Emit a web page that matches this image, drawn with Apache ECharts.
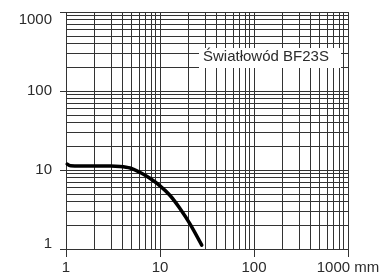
<!DOCTYPE html>
<html><head><meta charset="utf-8">
<script src="https://cdn.jsdelivr.net/npm/echarts@6/dist/echarts.min.js"></script>
<style>html,body{margin:0;padding:0;background:#fff}#c{width:390px;height:275px}</style>
</head><body><div id="c"></div>
<script>
var xValues = [1.03, 1.12, 2, 3, 3.75, 4.8, 6.1, 7.8, 10, 12.8, 16.3, 20.9, 27.8];
var yValues = [11.9, 11.3, 11.2, 11.2, 11.1, 10.6, 9.35, 7.85, 6.3, 4.76, 3.26, 2.07, 1.12];
var xTickLabels = {1: '1', 10: '10', 100: '100', 1000: '1000 mm'};
var yTickLabels = {1: '1', 10: '10', 100: '100', 1000: '1000'};
var seriesName = 'Światłowód BF23S';

var chart = echarts.init(document.getElementById('c'), null, {renderer: 'canvas'});
var font = {fontFamily: 'Liberation Sans, Arial, sans-serif', fontSize: 15, color: '#2b2b2b'};
var gridColor = '#333';
chart.setOption({
  animation: false,
  grid: {left: 66, right: 42, top: 12, bottom: 25, containLabel: false},
  xAxis: {
    type: 'log', logBase: 10, min: 1, max: 1000,
    axisLine: {show: false},
    axisTick: {show: true, length: 8, lineStyle: {color: gridColor}},
    minorTick: {show: false, splitNumber: 9},
    splitLine: {show: true, lineStyle: {color: gridColor, width: 1}},
    minorSplitLine: {show: true, lineStyle: {color: gridColor, width: 1}},
    axisLabel: Object.assign({margin: 11, formatter: function (v) { return xTickLabels[Math.round(v)] || ''; }}, font)
  },
  yAxis: {
    type: 'log', logBase: 10, min: 1, max: 1000,
    axisLine: {show: false},
    axisTick: {show: true, length: 6, lineStyle: {color: gridColor}},
    minorTick: {show: false, splitNumber: 9},
    splitLine: {show: true, lineStyle: {color: gridColor, width: 1}},
    minorSplitLine: {show: true, lineStyle: {color: gridColor, width: 1}},
    axisLabel: Object.assign({
      margin: 14,
      formatter: function (v) {
        var r = Math.round(v);
        var t = yTickLabels[r] || '';
        if (r === 1) return '{lo|' + t + '}';
        if (r === 1000) return '{hi|' + t + '}';
        return t;
      },
      rich: {
        lo: Object.assign({padding: [0, 0, 10, 0]}, font),
        hi: Object.assign({padding: [15, 0, 0, 0]}, font)
      }
    }, font)
  },
  series: [{
    name: seriesName,
    type: 'line',
    data: xValues.map(function (x, i) { return [x, yValues[i]]; }),
    smooth: 0.3,
    symbol: 'none',
    lineStyle: {color: '#000', width: 3.5, cap: 'round', join: 'round'},
    z: 5
  }],
  graphic: [{
    type: 'rect', left: 199, top: 48, shape: {width: 142, height: 20},
    style: {fill: '#fff'}, z: 10
  }, {
    type: 'text', left: 203, top: 49,
    style: {text: seriesName, font: '15px Liberation Sans, Arial, sans-serif', fill: '#2b2b2b'}, z: 11
  }]
});
</script></body></html>
